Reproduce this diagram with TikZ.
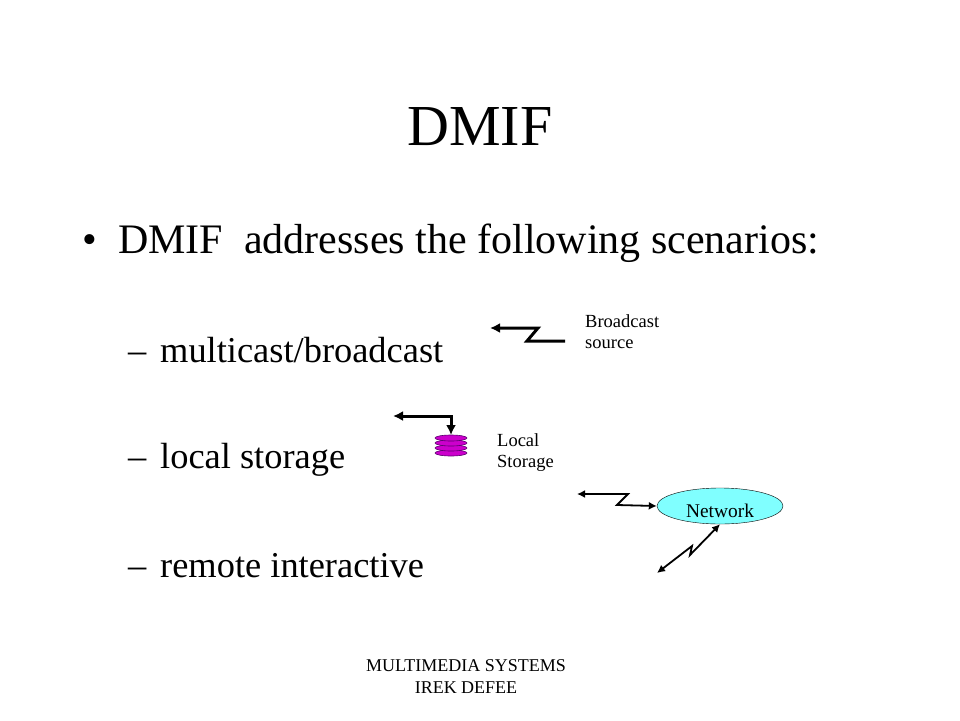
\documentclass[tikz,border=0pt]{standalone}
\usepackage{fontspec}
\setmainfont{Liberation Serif}
\usetikzlibrary{arrows.meta,shapes.geometric}
\definecolor{diskfill}{RGB}{204,0,204}
\definecolor{diskline}{RGB}{90,0,110}
\definecolor{netfill}{RGB}{128,255,255}

\begin{document}
\begin{tikzpicture}[x=1pt, y=-1pt,
  line/.style={inner sep=0pt, anchor=base west},
  big/.style={font=\fontsize{42}{48}\selectfont},
  sub/.style={font=\fontsize{36.4}{42}\selectfont},
  tag/.style={inner sep=0pt, anchor=north west, align=left, font=\fontsize{18.5}{21}\selectfont},
  link/.style={line width=3pt, -{Latex[length=10pt,width=10pt]}},
  radio/.style={line width=1.8pt, {Latex[length=8pt,width=8pt]}-{Latex[length=8pt,width=8pt]}},
  disk/.style={fill=diskfill, draw=diskline, line width=0.6pt}]
\useasboundingbox (0,0) rectangle (960,720);

\node [inner sep=0pt, anchor=base, font=\fontsize{58}{60}\selectfont] (title) at (480,145) {DMIF};

\node [inner sep=0pt, anchor=base, big] (dot) at (90,253) {•};
\node [line, big] (main) at (118,253) {DMIF\ \ addresses the following scenarios:};

\node [line, sub] (d1) at (128,362) {–};
\node [line, sub] (multi) at (160,362) {multicast/broadcast};
\node [line, sub] (d2) at (128,468) {–};
\node [line, sub] (local) at (160,468) {local storage};
\node [line, sub] (d3) at (128,577) {–};
\node [line, sub] (remote) at (160,577) {remote interactive};

% broadcast source
\node [tag] (bcast) at (585,314) {Broadcast\\source};
\coordinate (bsrc) at (565,341);
\coordinate (btip) at (490,328);
\draw [link] (bsrc) -- ++(-38,0) -- ++(11,-13) -- (btip);

% local storage
\node [tag] (store) at (497,433) {Local\\Storage};
\coordinate (stack) at (451,435);
\coordinate (ltip) at (393,416);
\foreach \i in {3,2,1,0}
  \draw [disk, shift={(stack)}] (0,3+5*\i) ellipse [x radius=16pt, y radius=3pt];
\draw [link, {Latex[length=10pt,width=10pt]}-{Latex[length=10pt,width=10pt]}] (ltip) -| (stack);

% network
\node [ellipse, draw, fill=netfill, minimum width=126pt, minimum height=36pt, inner sep=0pt,
  text height=22pt, text depth=0pt, font=\fontsize{19.4}{22}\selectfont] (net) at (720,506) {Network};
\coordinate (ntip) at (577,494);
\coordinate (rtip) at (657,573);
\draw [radio] (ntip) -- ++(51,0) -- ++(-11,11) -- (net.west);
\draw [radio] (rtip) -- ++(35,-27) -- ++(-2,9) -- (net.south);

\node [inner sep=0pt, anchor=north, align=center, font=\fontsize{18}{22}\selectfont] (foot) at (466,659)
  {MULTIMEDIA SYSTEMS\\IREK DEFEE};
\end{tikzpicture}
\end{document}
